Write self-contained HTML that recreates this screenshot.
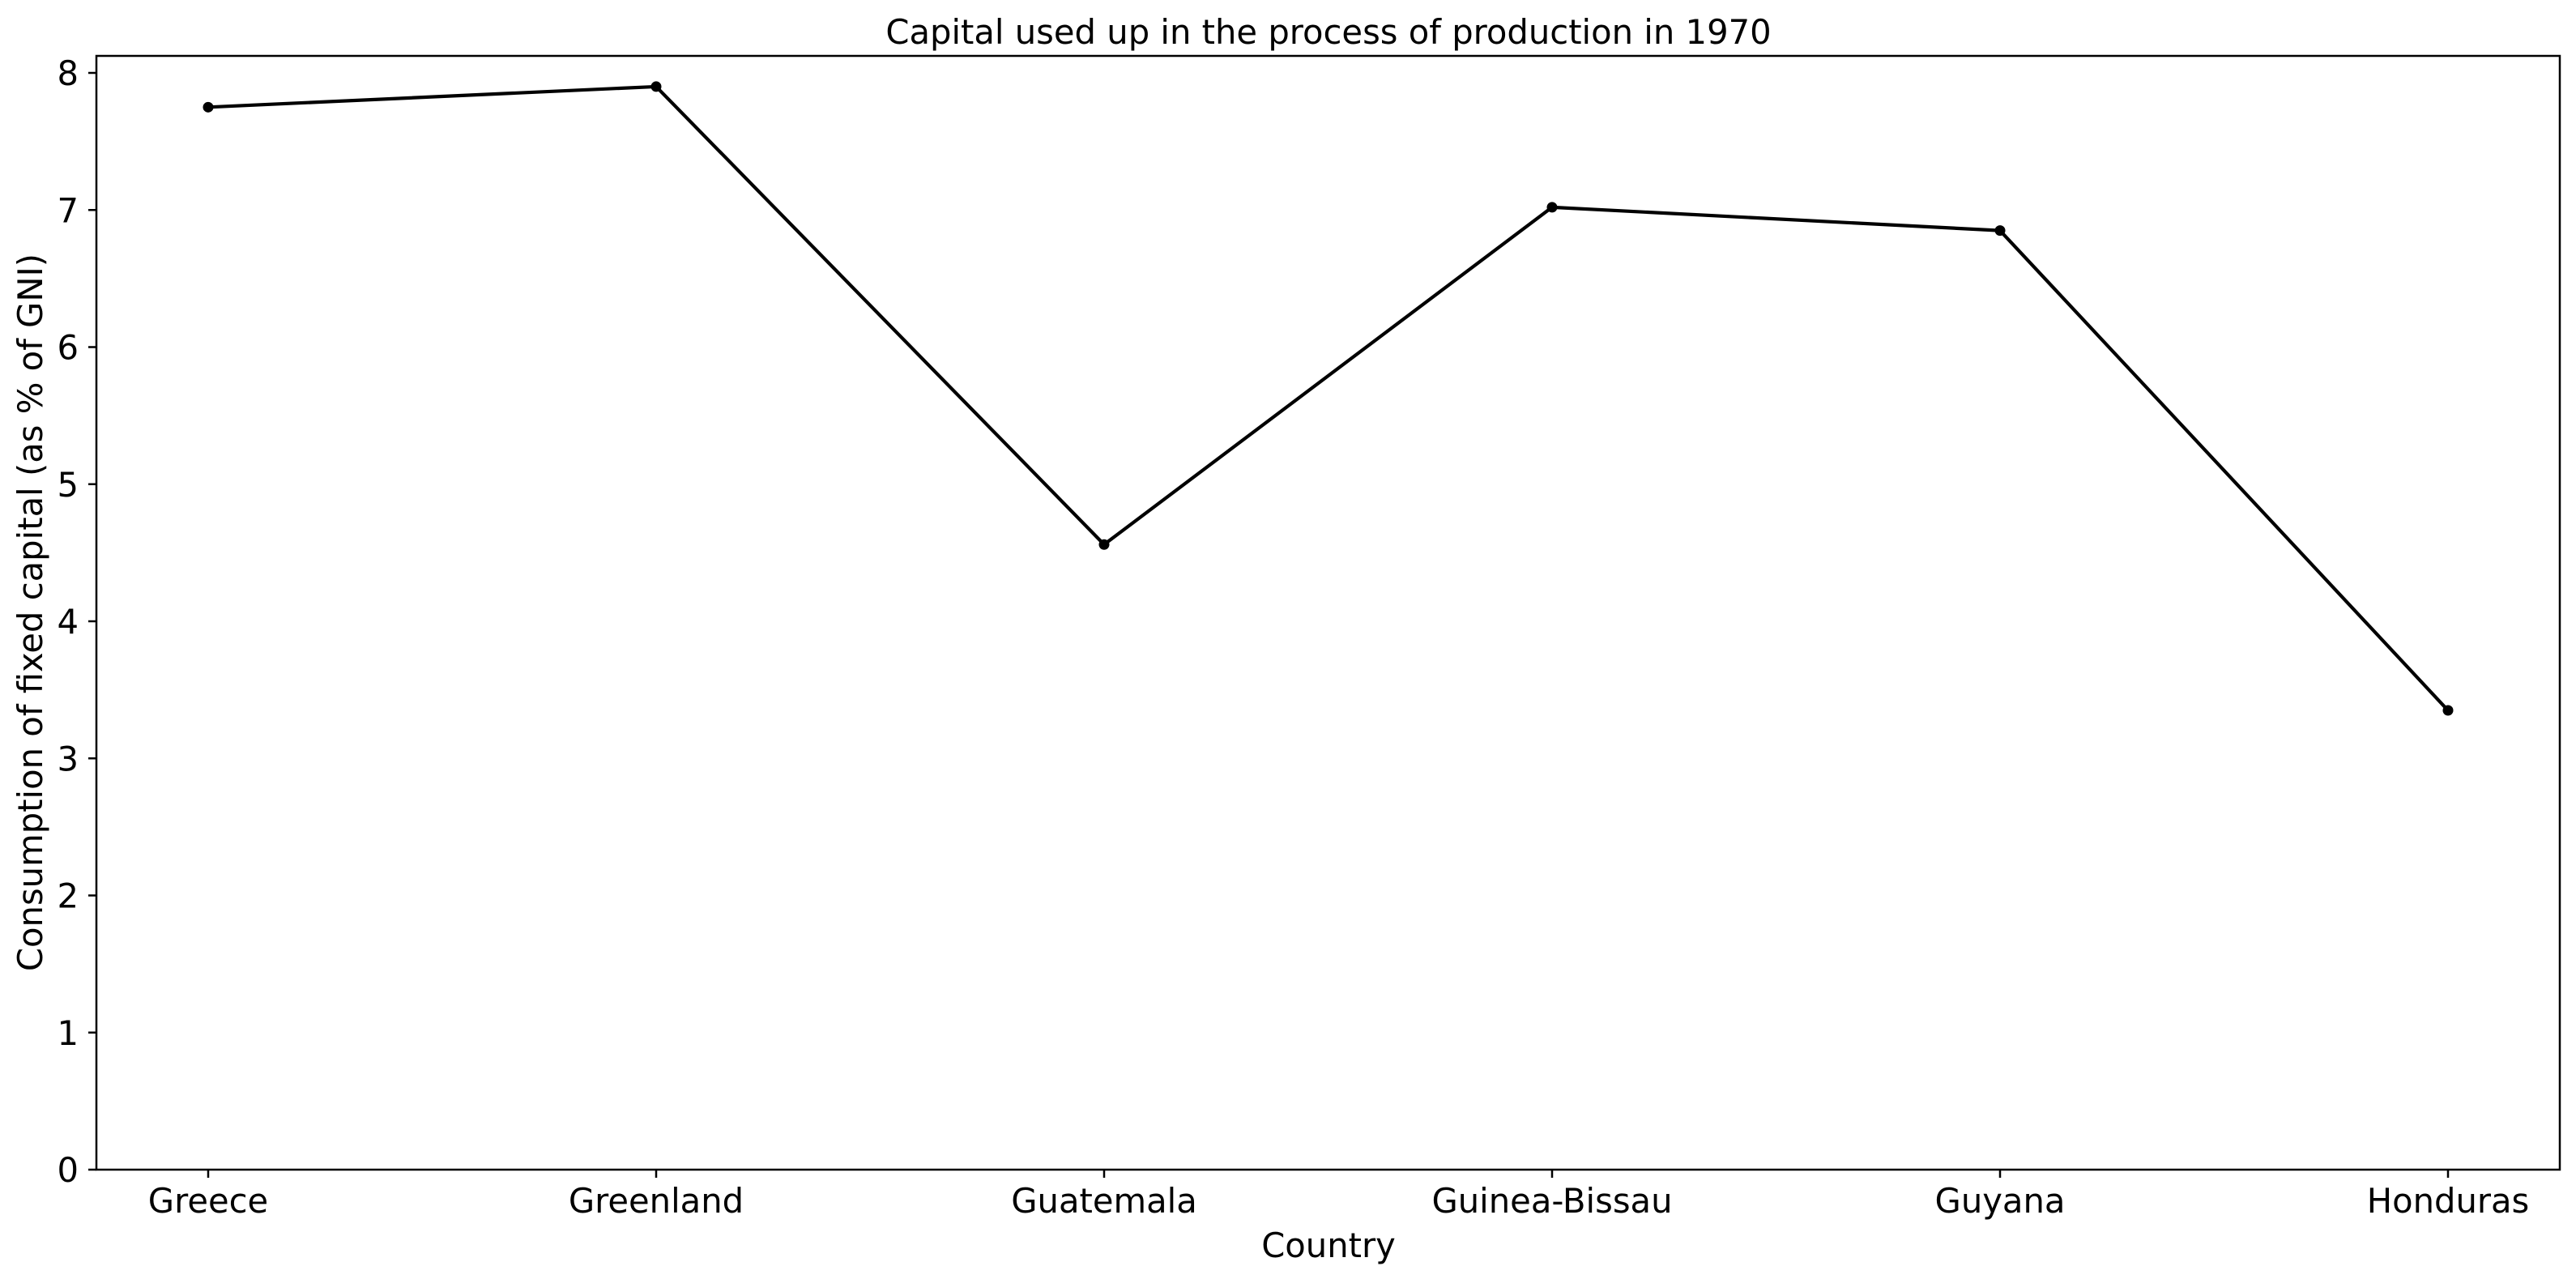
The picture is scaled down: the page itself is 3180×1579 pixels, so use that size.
<!DOCTYPE html>
<html><head><meta charset="utf-8"><style>
html,body{margin:0;padding:0;background:#fff;}
svg{display:block;font-family:"DejaVu Sans","Liberation Sans",sans-serif;}
</style></head><body>
<svg id="chart" width="3180" height="1579" viewBox="0 0 3180 1579" xmlns="http://www.w3.org/2000/svg">
<rect width="3180" height="1579" fill="#fff"/>
<text x="1640" y="54" font-size="41.7" text-anchor="middle">Capital used up in the process of production in 1970</text>
<text x="1640" y="1552" font-size="41.7" text-anchor="middle">Country</text>
<text transform="translate(52,756) rotate(-90)" font-size="41.7" text-anchor="middle">Consumption of fixed capital (as % of GNI)</text>
<g id="yticks"></g><g id="xticks"></g><g id="series"></g>
<rect x="119" y="69" width="3041" height="1375" fill="none" stroke="#000" stroke-width="2.5"/>
</svg>
<script>
const categories = ["Greece","Greenland","Guatemala","Guinea-Bissau","Guyana","Honduras"];
const values = [7.75, 7.90, 4.56, 7.02, 6.85, 3.35];
const yTicks = [0,1,2,3,4,5,6,7,8];
const NS = "http://www.w3.org/2000/svg";
const X0 = 257, XSTEP = 553, Y0 = 1444, YUNIT = 169.25;
function xs(i){return X0 + i*XSTEP;}
function ys(v){return Y0 - v*YUNIT;}
function mk(tag, attrs, parent){const e=document.createElementNS(NS,tag);for(const k in attrs)e.setAttribute(k,attrs[k]);parent.appendChild(e);return e;}
const yg=document.getElementById('yticks');
yTicks.forEach(t=>{
  const l=mk('line',{x1:109,x2:119,y1:ys(t),y2:ys(t),stroke:'#000','stroke-width':2.5},yg);
  
  
  const tx=mk('text',{x:97,y:ys(t)+15,'font-size':41.7,'text-anchor':'end'},yg);
  tx.textContent=t;
  
  
});
const xg=document.getElementById('xticks');
categories.forEach((c,i)=>{
  const l=mk('line',{x1:xs(i),x2:xs(i),y1:1444,y2:1454,stroke:'#000','stroke-width':2.5},xg);
  
  
  const tx=mk('text',{x:xs(i),y:1497,'font-size':41.7,'text-anchor':'middle'},xg);
  tx.textContent=c;
  
  
});
const sg=document.getElementById('series');
const pts=values.map((v,i)=>xs(i)+','+ys(v)).join(' ');
const pl=mk('polyline',{points:pts,fill:'none',stroke:'#000','stroke-width':4.2,'stroke-linejoin':'round'},sg);


values.forEach((v,i)=>{
  const c=mk('circle',{cx:xs(i),cy:ys(v),r:6.5,fill:'#000'},sg);
  
  
});
</script>
</body></html>
